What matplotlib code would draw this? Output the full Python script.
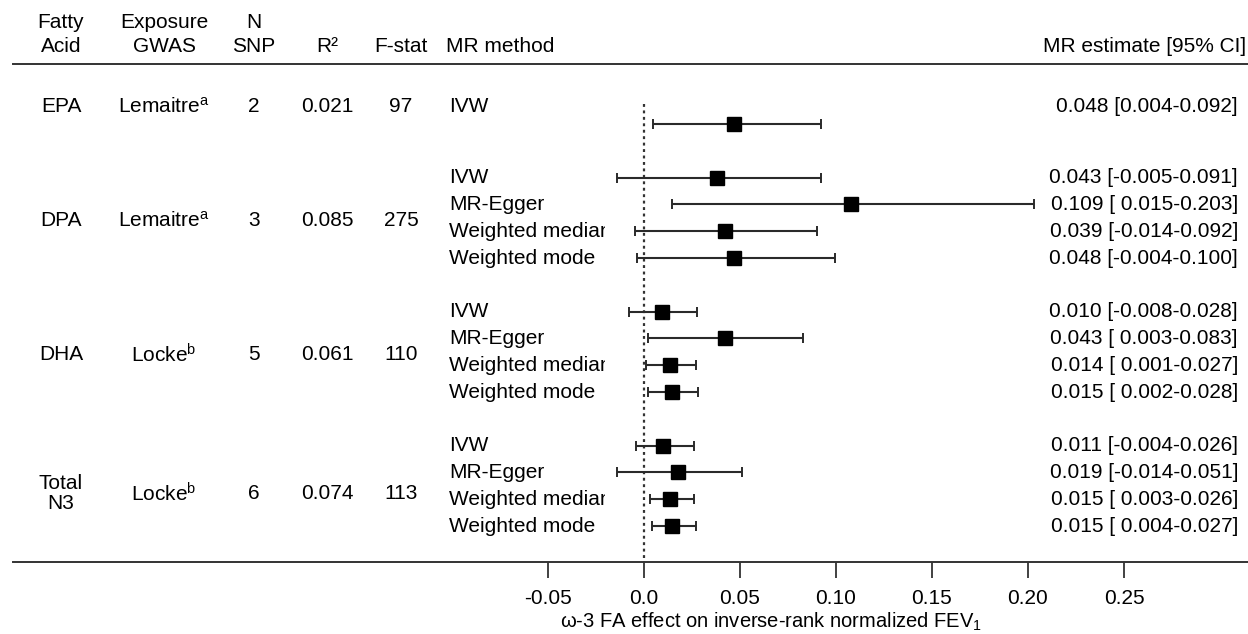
import matplotlib
matplotlib.use('Agg')
import matplotlib.pyplot as plt
import matplotlib.transforms as mtransforms
import numpy as np

plt.rcParams['font.family'] = ['Liberation Sans', 'DejaVu Sans']
plt.rcParams['mathtext.fontset'] = 'custom'
plt.rcParams['mathtext.rm'] = 'Liberation Sans'
plt.rcParams['mathtext.it'] = 'Liberation Sans'

# data
acids = ['EPA', 'DPA', 'DHA', 'Total\nN3']
gwas = ['Lemaitre', 'Lemaitre', 'Locke', 'Locke']
gwas_sup = ['a', 'a', 'b', 'b']
n_snp = [2, 3, 5, 6]
r2 = ['0.021', '0.085', '0.061', '0.074']
fstat = [97, 275, 110, 113]
group_rows = [[0], [2, 3, 4, 5], [7, 8, 9, 10], [12, 13, 14, 15]]
methods = ['IVW',
           'IVW', 'MR-Egger', 'Weighted median', 'Weighted mode',
           'IVW', 'MR-Egger', 'Weighted median', 'Weighted mode',
           'IVW', 'MR-Egger', 'Weighted median', 'Weighted mode']
est_text = ['0.048 [0.004-0.092]',
            '0.043 [-0.005-0.091]', '0.109 [ 0.015-0.203]',
            '0.039 [-0.014-0.092]', '0.048 [-0.004-0.100]',
            '0.010 [-0.008-0.028]', '0.043 [ 0.003-0.083]',
            '0.014 [ 0.001-0.027]', '0.015 [ 0.002-0.028]',
            '0.011 [-0.004-0.026]', '0.019 [-0.014-0.051]',
            '0.015 [ 0.003-0.026]', '0.015 [ 0.004-0.027]']
# plotted points as drawn
est = [0.047, 0.038, 0.108, 0.042, 0.047,
       0.0095, 0.042, 0.0135, 0.0145,
       0.010, 0.0175, 0.0135, 0.0145]
lo = [0.0045, -0.014, 0.0146, -0.0047, -0.0036,
      -0.0078, 0.002, 0.001, 0.002,
      -0.004, -0.014, 0.003, 0.004]
hi = [0.092, 0.092, 0.203, 0.090, 0.0995,
      0.0276, 0.083, 0.027, 0.028,
      0.026, 0.051, 0.026, 0.027]
xticks = [-0.05, 0.0, 0.05, 0.10, 0.15, 0.20, 0.25]
xticklabels = ['-0.05', '0.0', '0.05', '0.10', '0.15', '0.20', '0.25']

W, H = 1248, 634
fig = plt.figure(figsize=(W / 100, H / 100), dpi=100)
# axes: top spine = header rule, bottom spine = x axis
ax = fig.add_axes([13 / W, 1 - 562 / H, (W - 13) / W, (562 - 64) / H])
ax.set_xlim((13 - 644) / 1920, (W - 644) / 1920)
pitch = 26.8
ax.set_ylim((562 - 124) / pitch, (64 - 124) / pitch)
for s in ['left', 'right']:
    ax.spines[s].set_visible(False)
for s in ['top', 'bottom']:
    ax.spines[s].set_color('#333333')
    ax.spines[s].set_linewidth(1.4)
ax.set_yticks([])
ax.set_xticks(xticks)
ax.set_xticklabels(xticklabels, fontsize=15)
ax.tick_params(axis='x', direction='out', length=11.5, width=1.3,
               color='#333333', pad=8)

rows = [r for g in group_rows for r in g]
ax.vlines(0, -0.75, (562 - 124) / pitch, colors='#333333',
          linestyles=(0, (1.3, 1.6)), linewidth=1.6)
ax.errorbar(est, rows, xerr=[np.array(est) - np.array(lo), np.array(hi) - np.array(est)],
            fmt='none', ecolor='#2a2a2a', elinewidth=1.5, capsize=3.6, capthick=1.4)
ax.plot(est, rows, 's', color='black', markersize=10)

tr = mtransforms.blended_transform_factory(fig.transFigure, ax.transData)
fs = 15

def fx(px):
    return px / W

def fy(py):
    return 1 - py / H

# header
fig.text(fx(61), fy(23), 'Fatty', ha='center', va='center', fontsize=fs)
fig.text(fx(61), fy(47), 'Acid', ha='center', va='center', fontsize=fs)
fig.text(fx(164), fy(23), 'Exposure', ha='center', va='center', fontsize=fs)
fig.text(fx(164), fy(47), 'GWAS', ha='center', va='center', fontsize=fs)
fig.text(fx(254), fy(23), 'N', ha='center', va='center', fontsize=fs)
fig.text(fx(254), fy(47), 'SNP', ha='center', va='center', fontsize=fs)
fig.text(fx(327), fy(47), 'R²', ha='center', va='center', fontsize=fs)
fig.text(fx(401), fy(47), 'F-stat', ha='center', va='center', fontsize=fs)
fig.text(fx(446), fy(47), 'MR method', ha='left', va='center', fontsize=fs)
fig.text(fx(1246), fy(47), 'MR estimate [95% CI]', ha='right', va='center', fontsize=fs)

# group columns
group_y = [-0.65, 3.6, 8.6, 13.8]
for i in range(len(acids)):
    y = group_y[i]
    ax.text(fx(61), y, acids[i], transform=tr, ha='center', va='center',
            fontsize=fs, linespacing=1.05)
    ax.text(fx(164), y, gwas[i] + '$^{\\mathrm{' + gwas_sup[i] + '}}$', transform=tr,
            ha='center', va='center', fontsize=fs)
    ax.text(fx(254), y, str(n_snp[i]), transform=tr, ha='center', va='center', fontsize=fs)
    ax.text(fx(327), y, r2[i], transform=tr, ha='center', va='center', fontsize=fs)
    ax.text(fx(401), y, str(fstat[i]), transform=tr, ha='center', va='center', fontsize=fs)

# per-method rows (method column is cut off just left of the zero line)
clip = mtransforms.Bbox([[0, 0], [605, H]])
for k, r in enumerate(rows):
    ty = r if r != 0 else -0.65
    t = ax.text(fx(449), ty, methods[k], transform=tr, ha='left', va='center', fontsize=fs)
    t.set_clip_on(True)
    t.set_clip_box(clip)
    ax.text(fx(1238), ty, est_text[k], transform=tr, ha='right', va='center', fontsize=fs)

fig.text(fx(771), fy(622), 'ω-3 FA effect on inverse-rank normalized FEV$_1$',
         ha='center', va='center', fontsize=14.5)

fig.savefig('out.png', dpi=100, facecolor='white')
